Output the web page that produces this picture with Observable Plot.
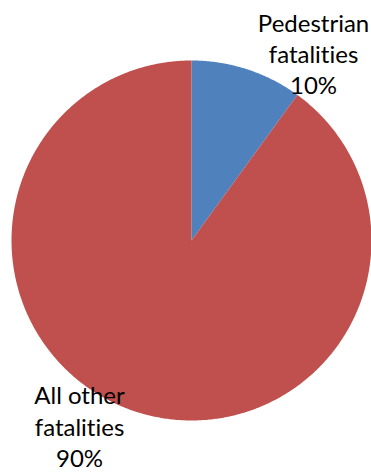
<!DOCTYPE html>
<html>
<head>
<meta charset="utf-8">
<script src="https://cdn.jsdelivr.net/npm/d3@7"></script>
<script src="https://cdn.jsdelivr.net/npm/@observablehq/plot@0.6"></script>
<style>
  html, body { margin: 0; padding: 0; background: #fff; overflow: hidden; }
  #chart { width: 371px; height: 473px; }
  svg text { font-variant-ligatures: none; font-feature-settings: "liga" 0, "clig" 0; }
</style>
</head>
<body>
<div id="chart"></div>
<script>
// Data
const categories = ["Pedestrian fatalities", "All other fatalities"];
const values = [10, 90];
const labels = ["Pedestrian\nfatalities\n10%", "All other\nfatalities\n90%"];
const colors = ["#4F81BD", "#C0504D"];

// Layout constants (label anchors in unit-circle coordinates)
const labelAnchors = [[0.678, 1.04], [-0.622, -1.028]];

const pie = d3.pie().sort(null).value(d => d.value)(
  categories.map((c, i) => ({category: c, value: values[i]}))
);

function sector(a0, a1) {
  const ring = [[0, 0]];
  const n = Math.max(2, Math.ceil((a1 - a0) / (Math.PI / 360)));
  for (let k = 0; k <= n; k++) {
    const a = a0 + (a1 - a0) * k / n;
    ring.push([Math.sin(a), Math.cos(a)]);
  }
  ring.push([0, 0]);
  return ring;
}

const slices = pie.map((p, i) => ({
  type: "Feature",
  properties: {category: p.data.category, value: p.data.value},
  geometry: {type: "Polygon", coordinates: [sector(p.startAngle, p.endAngle)]}
}));
const collection = {type: "FeatureCollection", features: slices};

const labelData = categories.map((c, i) => ({
  category: c, text: labels[i], x: labelAnchors[i][0], y: labelAnchors[i][1]
}));

const chart = Plot.plot({
  width: 371,
  height: 473,
  marginLeft: 11,
  marginRight: 0,
  marginTop: 59,
  marginBottom: 52,
  projection: {type: "reflect-y", domain: collection, clip: false},
  color: {domain: categories, range: colors},
  style: {fontFamily: "Lato, 'Open Sans', sans-serif", background: "#fff", overflow: "visible"},
  marks: [
    Plot.geo(slices, {fill: d => d.properties.category, stroke: "none"}),
    Plot.text(labelData, {
      x: "x", y: "y", text: "text",
      fontSize: 24, lineHeight: 1.3, fill: "#000",
      textAnchor: "middle", lineAnchor: "middle"
    })
  ]
});
document.getElementById("chart").appendChild(chart);
</script>
</body>
</html>
